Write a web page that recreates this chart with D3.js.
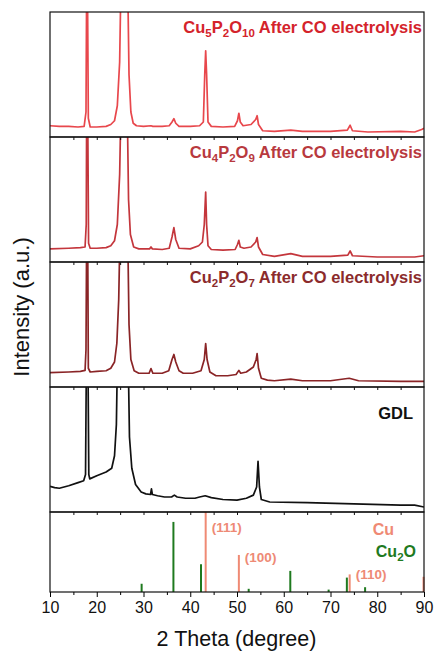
<!DOCTYPE html>
<html>
<head>
<meta charset="utf-8">
<script src="https://cdn.jsdelivr.net/npm/d3@7"></script>
<style>
  body { margin: 0; background: #fff; }
  text { font-family: "Liberation Sans", Arimo, sans-serif; }
</style>
</head>
<body>
<svg id="chart"></svg>
<script>
// 2theta range + ticks
const xTicks = [10, 20, 30, 40, 50, 60, 70, 80, 90];

// XRD curves, [2theta, relative intensity in panel]
const cu5Data = [[10,0.09],[12,0.085],[14,0.085],[16,0.08],[17.3,0.085],[17.7,0.2],[17.85,1.3],[18.0,1.3],[18.2,0.15],[18.6,0.08],[20,0.08],[22,0.085],[23,0.1],[23.8,0.13],[24.4,0.25],[24.9,0.6],[25.2,1.3],[26.6,1.3],[26.9,0.5],[27.3,0.2],[27.8,0.11],[28.5,0.09],[30,0.085],[31.6,0.09],[32,0.085],[34,0.085],[35.5,0.09],[36.1,0.12],[36.5,0.147],[36.9,0.11],[37.6,0.085],[40,0.085],[42,0.09],[42.8,0.12],[43.1,0.5],[43.3,0.69],[43.5,0.5],[43.8,0.12],[44.5,0.085],[47,0.08],[49.5,0.085],[50.1,0.13],[50.4,0.19],[50.7,0.12],[51.3,0.09],[53,0.1],[54,0.14],[54.3,0.17],[54.6,0.1],[55.5,0.05],[58,0.045],[61.5,0.055],[64,0.045],[70,0.045],[73.6,0.055],[74.2,0.094],[74.7,0.05],[78,0.04],[85,0.045],[88,0.04],[89.5,0.06],[90,0.07]];
const cu4Data = [[10,0.105],[14,0.11],[16.5,0.115],[17.5,0.12],[17.75,0.3],[17.85,1.3],[18.05,1.3],[18.25,0.15],[18.6,0.11],[20,0.11],[22,0.115],[23,0.13],[23.8,0.17],[24.4,0.3],[24.9,0.7],[25.2,1.3],[26.5,1.3],[26.8,0.5],[27.2,0.22],[27.9,0.12],[29,0.105],[31.3,0.105],[31.6,0.12],[31.9,0.105],[34,0.1],[35.5,0.11],[36.1,0.2],[36.5,0.275],[36.9,0.18],[37.6,0.11],[40,0.105],[41.8,0.13],[42.6,0.16],[43.0,0.3],[43.3,0.56],[43.5,0.3],[43.8,0.13],[44.5,0.1],[47,0.095],[49.6,0.1],[50.1,0.14],[50.4,0.173],[50.7,0.12],[51.5,0.11],[53,0.12],[54,0.16],[54.3,0.195],[54.6,0.12],[55.5,0.06],[58,0.045],[61.5,0.067],[64,0.045],[70,0.045],[73.7,0.055],[74.2,0.088],[74.7,0.05],[80,0.04],[88,0.04],[90,0.05]];
const cu2Data = [[10,0.115],[14,0.12],[16.5,0.125],[17.5,0.133],[17.7,0.3],[17.85,1.3],[18.05,1.3],[18.2,0.15],[18.6,0.12],[20,0.125],[22,0.13],[23,0.15],[23.8,0.2],[24.3,0.35],[24.7,0.7],[25.0,1.3],[26.6,1.3],[26.9,0.5],[27.3,0.22],[28,0.13],[29,0.11],[31.2,0.11],[31.6,0.147],[32,0.11],[34,0.11],[35.4,0.13],[36.1,0.22],[36.5,0.26],[36.9,0.2],[37.6,0.13],[38.5,0.11],[40.5,0.11],[42.3,0.13],[43,0.22],[43.3,0.347],[43.6,0.22],[44.2,0.12],[45.5,0.09],[48,0.09],[49.8,0.1],[50.4,0.133],[50.8,0.11],[52,0.12],[53.5,0.16],[54.1,0.22],[54.3,0.267],[54.6,0.15],[55.2,0.07],[56.5,0.055],[58,0.05],[61.5,0.063],[64,0.05],[70,0.05],[74,0.07],[76,0.05],[85,0.045],[90,0.045]];
const gdlData = [[10,0.205],[11,0.195],[12,0.19],[14,0.21],[16,0.235],[17.2,0.25],[17.6,0.3],[17.8,1.3],[18.1,1.3],[18.3,0.3],[18.5,0.265],[20,0.29],[22,0.32],[23.2,0.35],[23.8,0.45],[24.2,0.7],[24.45,1.3],[26.7,1.3],[27.0,0.6],[27.5,0.35],[28.3,0.22],[29.5,0.16],[30.5,0.145],[31.5,0.14],[31.7,0.185],[31.9,0.14],[33,0.13],[34.5,0.12],[36,0.12],[36.6,0.135],[37.2,0.12],[39,0.11],[41,0.11],[42,0.12],[43.2,0.13],[44.5,0.115],[47,0.1],[50,0.095],[52,0.11],[53.5,0.135],[54.2,0.2],[54.5,0.405],[54.8,0.2],[55.2,0.1],[57,0.08],[65,0.075],[75,0.065],[85,0.055],[88,0.055],[90,0.04]];

// reference patterns (stick), [2theta, rel. intensity]
const cuRef = [[43.3,1.0],[50.4,0.463],[74.1,0.22],[89.9,0.19]];
const cuLabels = [[43.3,'(111)'],[50.4,'(100)'],[74.1,'(110)']];
const cu2oRef = [[29.6,0.103],[36.4,0.876],[42.3,0.347],[52.5,0.04],[61.4,0.264],[69.6,0.03],[73.5,0.18],[77.4,0.06]];

const [width, height] = [438, 657];
const svg = d3.select('#chart').attr('width', width).attr('height', height);

const x = d3.scaleLinear().domain([10, 90]).range([50, 424]);

// panel boxes: top, bottom
const panels = [
  { data: cu5Data, top: 12, bottom: 137, color: '#e8474c', labelColor: '#d4232b', name: [['Cu',0],['5',1],['P',0],['2',1],['O',0],['10',1],[' After CO electrolysis',0]] },
  { data: cu4Data, top: 137, bottom: 262, color: '#c4363c', labelColor: '#b8393e', name: [['Cu',0],['4',1],['P',0],['2',1],['O',0],['9',1],[' After CO electrolysis',0]] },
  { data: cu2Data, top: 262, bottom: 387, color: '#8a2426', labelColor: '#8b2b2c', name: [['Cu',0],['2',1],['P',0],['2',1],['O',0],['7',1],[' After CO electrolysis',0]] },
  { data: gdlData, top: 387, bottom: 512, color: '#111', labelColor: '#111', name: [['GDL',0]] }
];
const refTop = 512, refBottom = 592;

svg.append('defs').selectAll('clipPath')
  .data(panels)
  .enter()
  .append('clipPath')
  .attr('id', (d, i) => 'clip' + i)
  .append('rect')
  .attr('x', x(10)).attr('y', d => d.top)
  .attr('width', x(90) - x(10)).attr('height', d => d.bottom - d.top);

panels.forEach(function(p, i) {
  let y = d3.scaleLinear().domain([0, 1]).range([p.bottom, p.top]);
  let line = d3.line().x(d => x(d[0])).y(d => y(d[1]));
  svg.append('path')
    .datum(p.data)
    .attr('clip-path', 'url(#clip' + i + ')')
    .attr('d', line)
    .attr('fill', 'none')
    .attr('stroke', p.color)
    .attr('stroke-width', 1.7)
    .attr('stroke-linejoin', 'round');

  let t = svg.append('text')
    .attr('x', i === 3 ? 413 : 422)
    .attr('y', i === 3 ? p.top + 32 : p.top + 21)
    .attr('text-anchor', 'end')
    .attr('fill', p.labelColor)
    .style('font-size', '16.5px')
    .style('font-weight', 'bold');
  t.selectAll('tspan')
    .data(p.name)
    .enter()
    .append('tspan')
    .text(s => s[0])
    .style('font-size', s => s[1] ? '11.5px' : null)
    .attr('dy', function(s, j) {
      let prev = p.name[j - 1];
      if (s[1] && !(prev && prev[1])) return 4;
      if (!s[1] && prev && prev[1]) return -4;
      return 0;
    });
});

// reference panel
let yRef = d3.scaleLinear().domain([0, 1]).range([refBottom, refTop]);
svg.append('g').selectAll('line')
  .data(cu2oRef)
  .enter()
  .append('line')
  .attr('x1', d => x(d[0])).attr('x2', d => x(d[0]))
  .attr('y1', yRef(0)).attr('y2', d => yRef(d[1]))
  .attr('stroke', '#1f7a1f')
  .attr('stroke-width', 2);
svg.append('g').selectAll('line')
  .data(cuRef)
  .enter()
  .append('line')
  .attr('x1', d => x(d[0])).attr('x2', d => x(d[0]))
  .attr('y1', yRef(0)).attr('y2', d => yRef(d[1]))
  .attr('stroke', '#ef8a74')
  .attr('stroke-width', 2);
svg.append('g').selectAll('text')
  .data(cuLabels)
  .enter()
  .append('text')
  .attr('x', d => x(d[0]) + 6)
  .attr('y', (d, i) => [532, 562, 579][i])
  .attr('fill', '#ee8a76')
  .style('font-size', '13.5px')
  .style('font-weight', 'bold')
  .text(d => d[1]);

svg.append('text')
  .attr('x', 394).attr('y', 535)
  .attr('text-anchor', 'end')
  .attr('fill', '#ef8a74')
  .style('font-size', '16px').style('font-weight', 'bold')
  .text('Cu');
let cuo = svg.append('text')
  .attr('x', 416).attr('y', 557)
  .attr('text-anchor', 'end')
  .attr('fill', '#1f7a1f')
  .style('font-size', '16px').style('font-weight', 'bold');
cuo.append('tspan').text('Cu');
cuo.append('tspan').text('2').attr('dy', 4).style('font-size', '11.5px');
cuo.append('tspan').text('O').attr('dy', -4);

// frames
panels.concat([{ top: refTop, bottom: refBottom }]).forEach(function(p, i) {
  svg.append('rect')
    .attr('x', x(10)).attr('y', p.top)
    .attr('width', x(90) - x(10)).attr('height', p.bottom - p.top)
    .attr('fill', 'none')
    .attr('stroke', '#111')
    .attr('stroke-width', 1.2);
  if (i > 0) {
    // inward ticks at top edge of each lower panel
    svg.append('g')
      .attr('transform', 'translate(0,' + p.top + ')')
      .call(d3.axisBottom(x).tickValues(d3.range(15, 90, 5)).tickSize(3).tickFormat(''))
      .call(g => g.select('.domain').remove())
      .call(g => g.selectAll('line').attr('stroke', '#111'));
  }
});

// bottom axis
let xAxis = svg.append('g')
  .attr('transform', 'translate(0,' + refBottom + ')')
  .call(d3.axisBottom(x).tickValues(xTicks).tickSize(5).tickPadding(5))
  .call(g => g.select('.domain').remove());
xAxis.selectAll('text')
  .style('font-size', '16px')
  .style('font-family', '"Liberation Sans", Arimo, sans-serif')
  .attr('fill', '#111');
svg.append('g')
  .attr('transform', 'translate(0,' + refBottom + ')')
  .call(d3.axisBottom(x).tickValues(d3.range(15, 90, 10)).tickSize(3).tickFormat(''))
  .call(g => g.select('.domain').remove());

svg.append('text')
  .attr('x', 236.5).attr('y', 646)
  .attr('text-anchor', 'middle')
  .style('font-size', '21.5px')
  .attr('fill', '#111')
  .text('2 Theta (degree)');

svg.append('text')
  .attr('transform', 'translate(29,307) rotate(-90)')
  .attr('text-anchor', 'middle')
  .style('font-size', '22px')
  .attr('fill', '#111')
  .text('Intensity (a.u.)');
</script>
</body>
</html>
